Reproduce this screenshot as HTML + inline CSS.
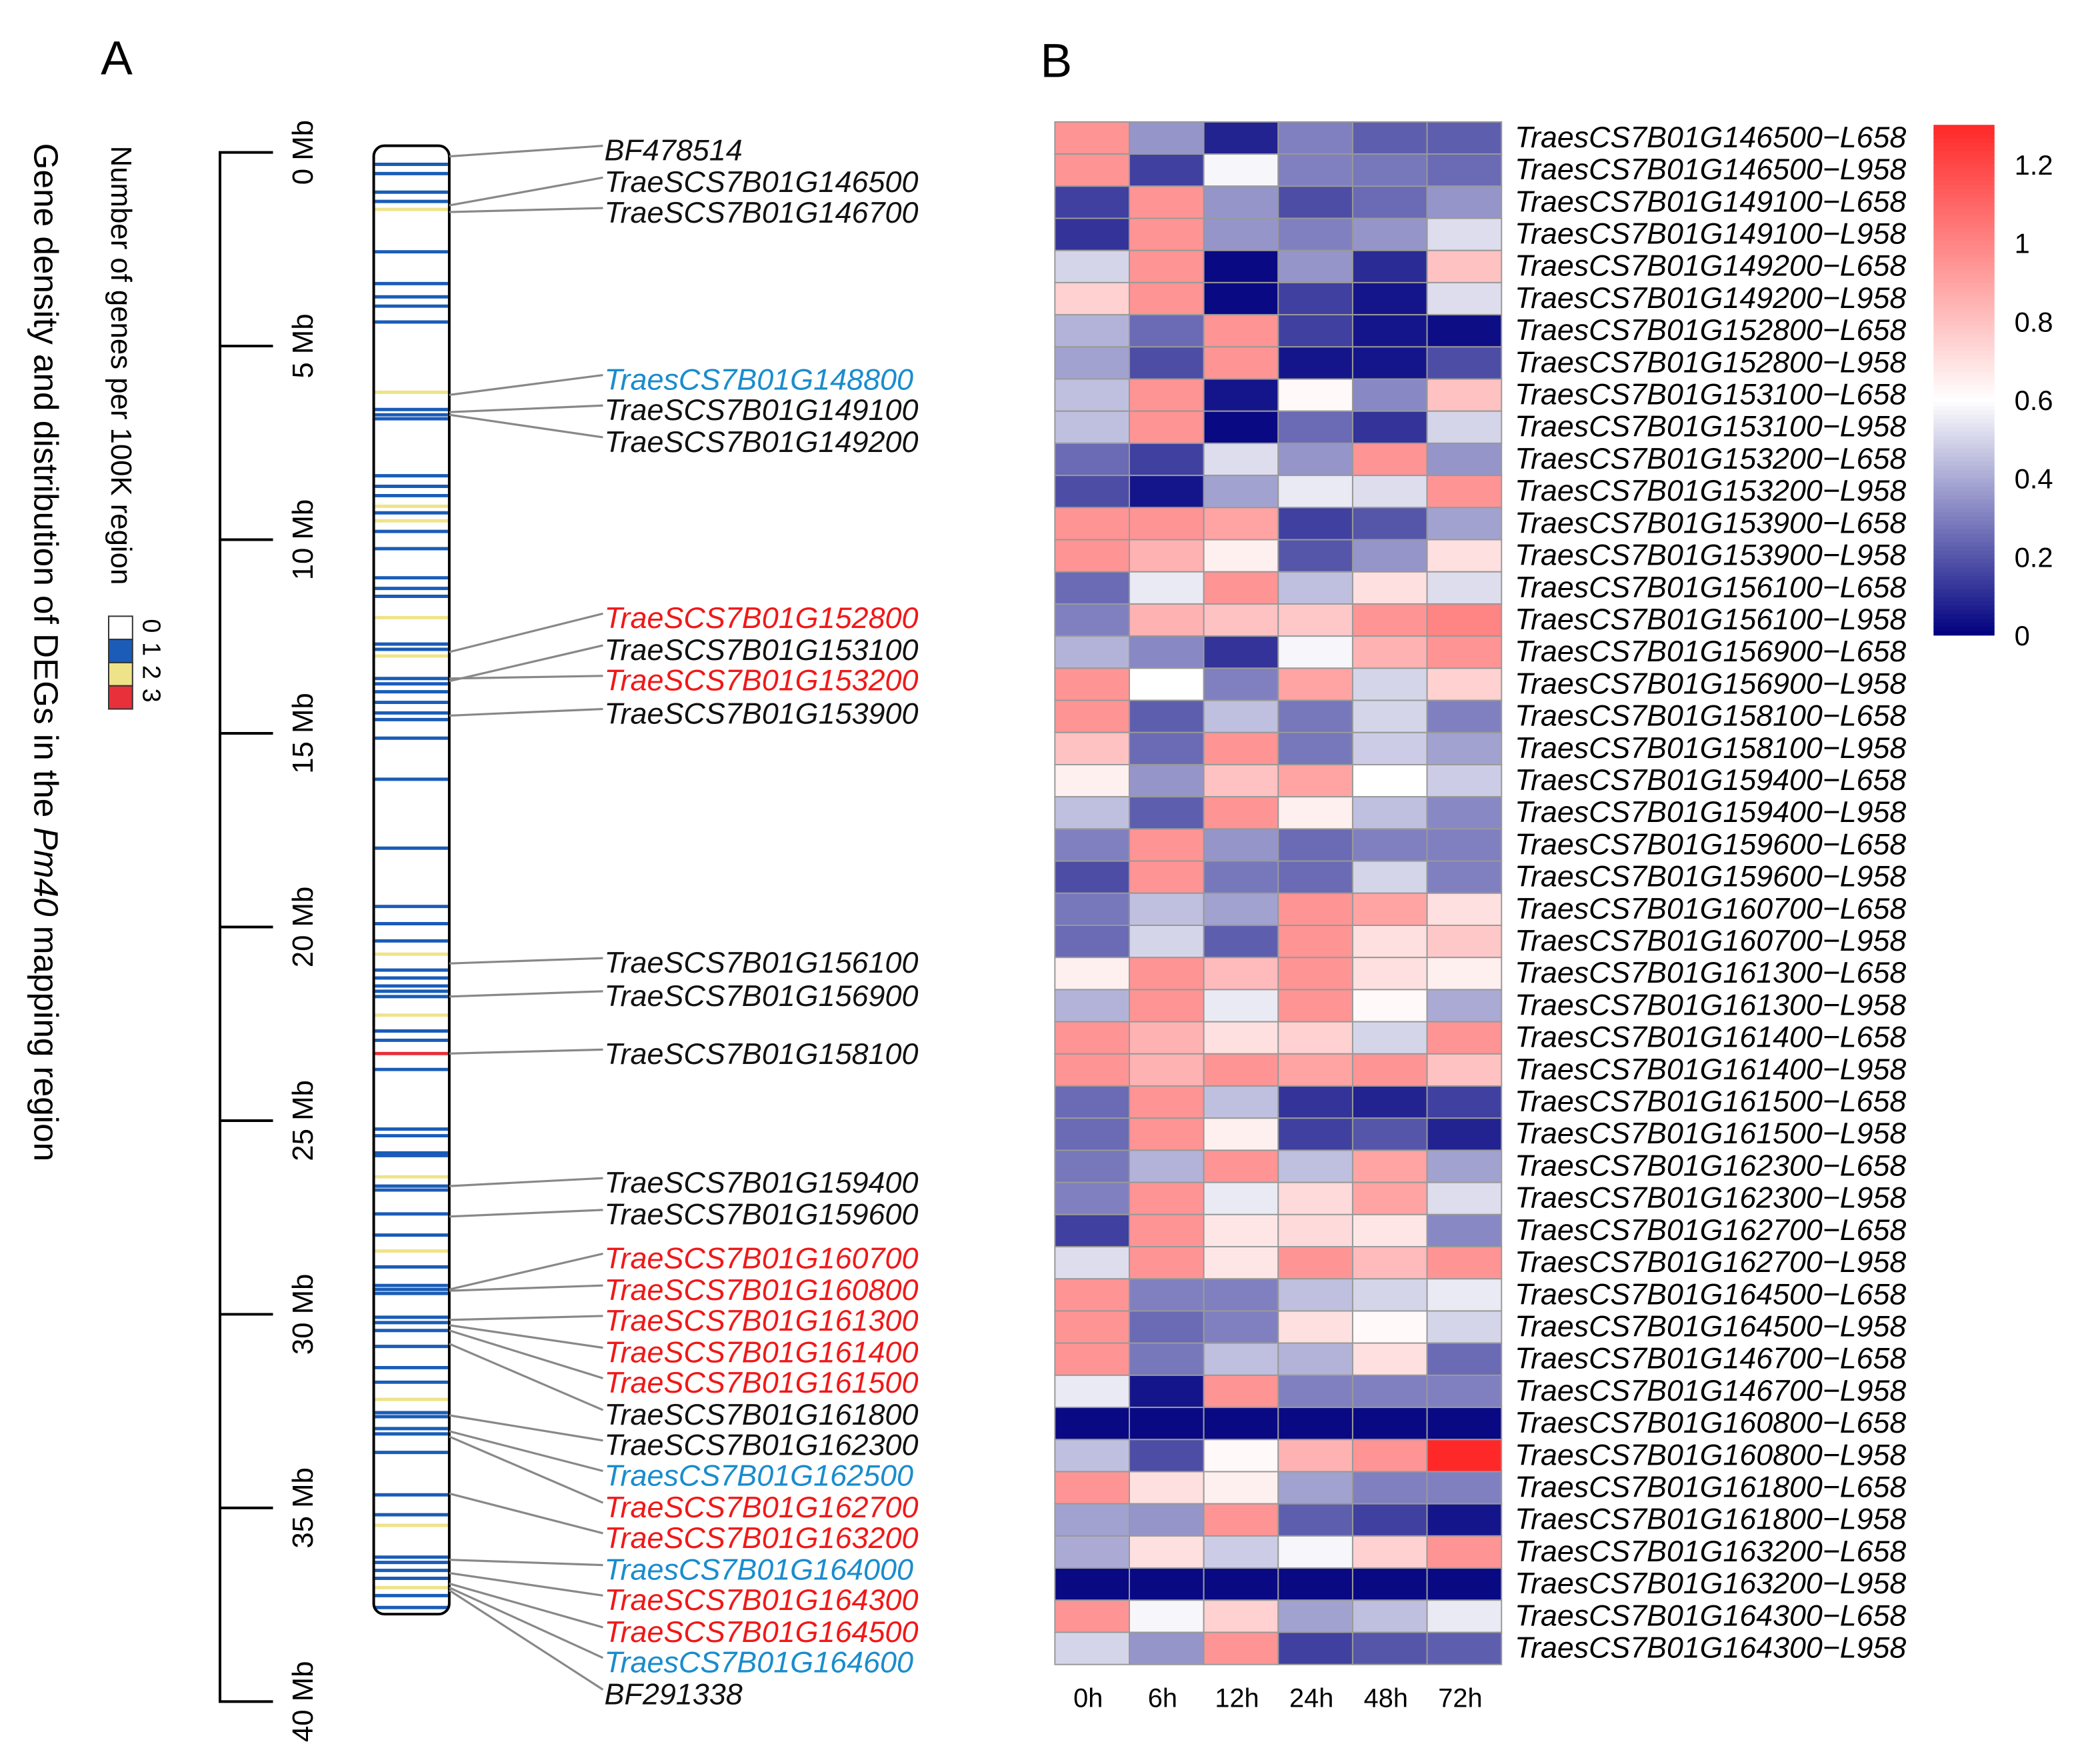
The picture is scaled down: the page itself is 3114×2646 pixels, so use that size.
<!DOCTYPE html>
<html><head><meta charset="utf-8"><style>
html,body{margin:0;padding:0;background:#fff}
svg{display:block}
text{font-family:"Liberation Sans",Arial,sans-serif}
</style></head><body>
<svg id="fig" width="3114" height="2646" viewBox="0 0 1566.5 1331.1" preserveAspectRatio="none" xmlns="http://www.w3.org/2000/svg">
<text x="76" y="56" font-size="36">A</text>
<text x="785" y="58" font-size="36">B</text>
<text transform="translate(26,108) rotate(90)" font-size="25.8">Gene density and distribution of DEGs in the <tspan font-style="italic">Pm40</tspan> mapping region</text>
<text transform="translate(84,110) rotate(90)" font-size="22">Number of genes per 100K region</text>
<g id="dlegend"></g>
<g id="axisA"></g>
<g id="chrom"></g>
<g id="genes"></g>
<g id="heat"></g>
<g id="clegend"></g>
</svg>
<script>
const NS="http://www.w3.org/2000/svg";
const mbTicks=[0,5,10,15,20,25,30,35,40];
const bandBlue=[124,131,145,152,190,214,224,231,243,309,313,316,359,367,374,387,401,414,436,444,450,486,490,512,516,522,530,538,543,557,588,640,684,697,710,732,738,744,748,752,778,785,807,852,857,870,872,895,898,916,932,956,970,973,976,994,998,1004,1016,1032,1043,1066,1069,1078,1082,1096,1128,1143,1175,1179,1185,1191,1204,1213];
const bandYellow=[158,296,382,393,466,495,720,766,888,944,1056,1151,1198];
const bandRed=[795];
const geneNames=["BF478514","TraeSCS7B01G146500","TraeSCS7B01G146700","TraesCS7B01G148800","TraeSCS7B01G149100","TraeSCS7B01G149200","TraeSCS7B01G152800","TraeSCS7B01G153100","TraeSCS7B01G153200","TraeSCS7B01G153900","TraeSCS7B01G156100","TraeSCS7B01G156900","TraeSCS7B01G158100","TraeSCS7B01G159400","TraeSCS7B01G159600","TraeSCS7B01G160700","TraeSCS7B01G160800","TraeSCS7B01G161300","TraeSCS7B01G161400","TraeSCS7B01G161500","TraeSCS7B01G161800","TraeSCS7B01G162300","TraesCS7B01G162500","TraeSCS7B01G162700","TraeSCS7B01G163200","TraesCS7B01G164000","TraeSCS7B01G164300","TraeSCS7B01G164500","TraesCS7B01G164600","BF291338"];
const geneLabelY=[114,138,161,287,310,334,467,491,514,539,727,752,796,893,917,950,974,997,1021,1044,1068,1091,1114,1138,1161,1185,1208,1232,1255,1279];
const geneBandY=[118,155,160,298,311,313,492,514,512,540,727,752,795,895,918,973,974,996,1000,1004,1014,1068,1080,1084,1127,1177,1187,1195,1198,1200];
const geneColor=["k","k","k","b","k","k","r","k","r","k","k","k","k","k","k","r","r","r","r","r","k","k","b","r","r","b","r","r","b","k"];
const timepoints=["0h","6h","12h","24h","48h","72h"];
const rowLabels=["TraesCS7B01G146500-L658","TraesCS7B01G146500-L958","TraesCS7B01G149100-L658","TraesCS7B01G149100-L958","TraesCS7B01G149200-L658","TraesCS7B01G149200-L958","TraesCS7B01G152800-L658","TraesCS7B01G152800-L958","TraesCS7B01G153100-L658","TraesCS7B01G153100-L958","TraesCS7B01G153200-L658","TraesCS7B01G153200-L958","TraesCS7B01G153900-L658","TraesCS7B01G153900-L958","TraesCS7B01G156100-L658","TraesCS7B01G156100-L958","TraesCS7B01G156900-L658","TraesCS7B01G156900-L958","TraesCS7B01G158100-L658","TraesCS7B01G158100-L958","TraesCS7B01G159400-L658","TraesCS7B01G159400-L958","TraesCS7B01G159600-L658","TraesCS7B01G159600-L958","TraesCS7B01G160700-L658","TraesCS7B01G160700-L958","TraesCS7B01G161300-L658","TraesCS7B01G161300-L958","TraesCS7B01G161400-L658","TraesCS7B01G161400-L958","TraesCS7B01G161500-L658","TraesCS7B01G161500-L958","TraesCS7B01G162300-L658","TraesCS7B01G162300-L958","TraesCS7B01G162700-L658","TraesCS7B01G162700-L958","TraesCS7B01G164500-L658","TraesCS7B01G164500-L958","TraesCS7B01G146700-L658","TraesCS7B01G146700-L958","TraesCS7B01G160800-L658","TraesCS7B01G160800-L958","TraesCS7B01G161800-L658","TraesCS7B01G161800-L958","TraesCS7B01G163200-L658","TraesCS7B01G163200-L958","TraesCS7B01G164300-L658","TraesCS7B01G164300-L958"];
const heatValues=[
[0.95,0.35,0.08,0.3,0.22,0.22],[0.95,0.15,0.58,0.3,0.28,0.25],[0.15,0.95,0.35,0.18,0.25,0.35],[0.12,0.95,0.35,0.3,0.35,0.52],
[0.5,0.95,0.02,0.35,0.1,0.8],[0.75,0.95,0.02,0.15,0.05,0.52],[0.42,0.25,0.95,0.15,0.05,0.03],[0.38,0.18,0.95,0.05,0.05,0.18],
[0.45,0.95,0.05,0.62,0.32,0.8],[0.45,0.95,0.02,0.25,0.12,0.5],[0.25,0.15,0.52,0.35,0.95,0.35],[0.18,0.05,0.38,0.55,0.52,0.95],
[0.95,0.95,0.9,0.15,0.2,0.38],[0.95,0.85,0.65,0.2,0.35,0.7],[0.25,0.55,0.95,0.45,0.7,0.52],[0.3,0.85,0.8,0.78,0.95,1.0],
[0.42,0.32,0.12,0.58,0.85,0.95],[0.95,0.6,0.3,0.9,0.5,0.75],[0.95,0.22,0.45,0.28,0.5,0.3],[0.8,0.25,0.95,0.28,0.48,0.38],
[0.65,0.35,0.8,0.9,0.6,0.48],[0.45,0.22,0.95,0.65,0.45,0.32],[0.3,0.95,0.35,0.25,0.3,0.3],[0.18,0.95,0.28,0.25,0.5,0.3],
[0.28,0.45,0.38,0.95,0.9,0.7],[0.25,0.5,0.22,0.95,0.7,0.78],[0.65,0.95,0.82,0.95,0.7,0.65],[0.42,0.95,0.55,0.95,0.62,0.4],
[0.95,0.85,0.7,0.75,0.5,0.95],[0.95,0.85,0.95,0.9,0.95,0.8],[0.25,0.95,0.45,0.12,0.08,0.15],[0.25,0.95,0.65,0.15,0.2,0.08],
[0.28,0.42,0.95,0.45,0.9,0.38],[0.3,0.95,0.55,0.72,0.9,0.52],[0.15,0.95,0.68,0.72,0.68,0.32],[0.52,0.95,0.68,0.95,0.82,0.95],
[0.95,0.3,0.3,0.45,0.5,0.55],[0.95,0.25,0.3,0.7,0.62,0.5],[0.95,0.28,0.45,0.42,0.7,0.25],[0.55,0.05,0.95,0.3,0.3,0.3],
[0.02,0.02,0.02,0.02,0.02,0.02],[0.45,0.18,0.62,0.85,0.95,1.3],[0.95,0.7,0.65,0.38,0.3,0.3],[0.38,0.35,0.95,0.22,0.15,0.05],
[0.4,0.7,0.48,0.58,0.75,0.95],[0.02,0.02,0.02,0.02,0.02,0.02],[0.95,0.58,0.75,0.38,0.45,0.55],[0.5,0.35,0.95,0.15,0.2,0.22]];
const legendTicks=[0,0.2,0.4,0.6,0.8,1,1.2];

function mk(tag,attrs,parent,txt){const e=document.createElementNS(NS,tag);for(const k in attrs)e.setAttribute(k,attrs[k]);if(txt!==undefined)e.textContent=txt;parent.appendChild(e);return e;}
const mbY=v=>115+v*(1284-115)/40;
const colX=i=>796+i*(1133-796)/6, colW=(1133-796)/6;
const rowY=i=>92+i*(1256-92)/48, rowH=(1256-92)/48;
const vmin=0,vmid=0.6,vmax=1.3;
function col(v){let a,b,t;if(v<=vmid){a=[0,0,128];b=[255,255,255];t=(v-vmin)/(vmid-vmin);}else{a=[255,255,255];b=[255,40,40];t=(v-vmid)/(vmax-vmid);}t=Math.max(0,Math.min(1,t));return `rgb(${a.map((x,i)=>Math.round(x+(b[i]-x)*t)).join(",")})`;}

const ax=document.getElementById('axisA');
let e=mk('line',{x1:166,y1:mbY(0),x2:166,y2:mbY(40),stroke:'#000','stroke-width':2},ax);


mbTicks.forEach(m=>{
 let t=mk('line',{x1:165,y1:mbY(m),x2:206,y2:mbY(m),stroke:'#000','stroke-width':2},ax);
 
 
 let l=mk('text',{transform:`translate(236,${mbY(m)}) rotate(-90)`,'font-size':22,'text-anchor':'middle'},ax,m+' Mb');
 
 
});
const ch=document.getElementById('chrom');
const drawBands=(arr,c,w)=>arr.forEach(y=>{let b=mk('line',{x1:283,x2:338,y1:y,y2:y,stroke:c,'stroke-width':w},ch);
 
 });
drawBands(bandYellow,'#efe38a',2.5);drawBands(bandBlue,'#1a5cb8',2.5);drawBands(bandRed,'#e8303a',2.5);
e=mk('rect',{x:282,y:110,width:57,height:1108,rx:8,fill:'none',stroke:'#000','stroke-width':2},ch);


const gg=document.getElementById('genes');
const cmap={k:'#111',r:'#f01818',b:'#1a8ccc'};
geneNames.forEach((n,i)=>{
 let l=mk('polyline',{points:`339,${geneBandY[i]} 455,${geneLabelY[i]-4}`,fill:'none',stroke:'#888','stroke-width':1.6},gg);
 
 
 let t=mk('text',{x:456,y:geneLabelY[i]+7,'font-size':22.6,'font-style':'italic',fill:cmap[geneColor[i]]},gg,n);
 
 
});
const dl=document.getElementById('dlegend');
['#fff','#1a5cb8','#efe38a','#e8303a'].forEach((c,i)=>{
 let r=mk('rect',{x:82,y:465+i*17.5,width:18,height:17.5,fill:c,stroke:'#333','stroke-width':1},dl);
 
 
 let t=mk('text',{transform:`translate(108,${467+i*17.5}) rotate(90)`,'font-size':19},dl,String(i));
 
 
});
const hg=document.getElementById('heat');
heatValues.forEach((row,r)=>row.forEach((v,c)=>{
 let cell=mk('rect',{x:colX(c),y:rowY(r),width:colW,height:rowH,fill:col(v),stroke:'#999','stroke-width':1},hg);
 
 
}));
rowLabels.forEach((n,r)=>{
 let t=mk('text',{x:1143,y:rowY(r)+rowH/2+7,'font-size':22.5,'font-style':'italic'},hg,n.replace(/-/g,'\u2212'));
 
 
});
timepoints.forEach((n,c)=>{
 let t=mk('text',{x:colX(c)+colW/2-3,y:1288,'font-size':20,'text-anchor':'middle'},hg,n);
 
 
});
const cl=document.getElementById('clegend');
const lgY=v=>479-(v/0.2)*59.2;
const N=120;
for(let i=0;i<N;i++){const v0=vmax*i/N,v1=vmax*(i+1)/N;
 let s=mk('rect',{x:1459,y:lgY(v1),width:46,height:lgY(v0)-lgY(v1)+0.6,fill:col((v0+v1)/2)},cl);
 
 }
legendTicks.forEach(v=>{
 let t=mk('text',{x:1520,y:lgY(v)+8,'font-size':21},cl,String(v));
 
 
});
</script>
</body></html>
